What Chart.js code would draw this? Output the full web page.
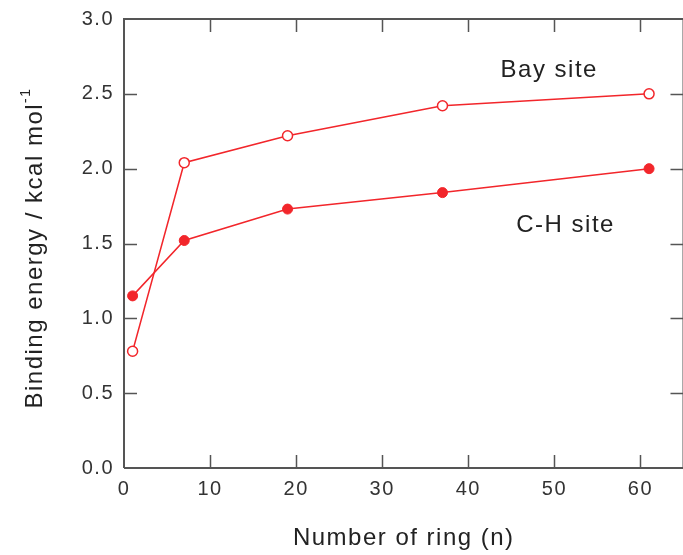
<!DOCTYPE html>
<html>
<head>
<meta charset="utf-8">
<script src="https://cdn.jsdelivr.net/npm/chart.js@4/dist/chart.umd.min.js"></script>
<style>
  html, body { margin: 0; padding: 0; background: #fff; overflow: hidden; }
  #wrap { width: 690px; height: 555px; }
</style>
</head>
<body>
<div id="wrap"><canvas id="chart" width="690" height="555"></canvas></div>
<script>
// data
const ringCounts = [1, 7, 19, 37, 61];
const baySite = [0.78, 2.04, 2.22, 2.42, 2.50];
const chSite = [1.15, 1.52, 1.73, 1.84, 2.00];
const xTicks = [0, 10, 20, 30, 40, 50, 60];
const yTicks = [0.0, 0.5, 1.0, 1.5, 2.0, 2.5, 3.0];

const red = '#f2262b';
const axisColor = '#555';
const font = '"Liberation Sans", Arial, Helvetica, sans-serif';
const spacing = '1.5px';

// the source font runs wider than Arial, so space the letters out a bit
const wideText = {
    id: 'wideText',
    beforeDraw(chart) { chart.ctx.letterSpacing = spacing; }
};

// frame, inward ticks, y title with superscript, series labels
const decor = {
    id: 'decor',
    afterDraw(chart) {
        const { ctx, chartArea: a, scales: { x, y } } = chart;
        const len = 13;
        ctx.save();
        ctx.strokeStyle = axisColor;
        ctx.lineWidth = 2;
        ctx.beginPath();
        ctx.moveTo(a.left, a.bottom); ctx.lineTo(a.left, a.top);
        ctx.lineTo(a.right, a.top); ctx.lineTo(a.right, a.bottom);
        ctx.lineTo(a.left, a.bottom);
        ctx.stroke();
        ctx.lineWidth = 1.5;
        ctx.beginPath();
        xTicks.forEach(v => {
            if (v === 0) return;
            const px = Math.round(x.getPixelForValue(v)) + 0.5;
            ctx.moveTo(px, a.bottom); ctx.lineTo(px, a.bottom - len);
            ctx.moveTo(px, a.top); ctx.lineTo(px, a.top + len);
        });
        yTicks.forEach(v => {
            if (v === 0 || v === 3) return;
            const py = Math.round(y.getPixelForValue(v)) + 0.5;
            ctx.moveTo(a.left, py); ctx.lineTo(a.left + len, py);
            ctx.moveTo(a.right, py); ctx.lineTo(a.right - len, py);
        });
        ctx.stroke();

        // y axis title
        ctx.fillStyle = '#222';
        ctx.letterSpacing = spacing;
        ctx.translate(42, 248);
        ctx.rotate(-Math.PI / 2);
        const main = 'Binding energy / kcal mol';
        ctx.font = '24px ' + font;
        const w1 = ctx.measureText(main).width;
        ctx.font = '14px ' + font;
        const w2 = ctx.measureText('-1').width;
        const start = -(w1 + w2) / 2;
        ctx.textBaseline = 'alphabetic';
        ctx.textAlign = 'left';
        ctx.font = '24px ' + font;
        ctx.fillText(main, start, 0);
        ctx.font = '14px ' + font;
        ctx.fillText('-1', start + w1, -12);
        ctx.restore();

        // series labels
        ctx.save();
        ctx.letterSpacing = spacing;
        ctx.fillStyle = '#222';
        ctx.font = '24px ' + font;
        ctx.textAlign = 'center';
        ctx.textBaseline = 'alphabetic';
        ctx.fillText('Bay site', x.getPixelForValue(49.4), y.getPixelForValue(2.61));
        ctx.fillText('C-H site', x.getPixelForValue(51.3), y.getPixelForValue(1.58));
        ctx.restore();
    }
};

new Chart(document.getElementById('chart'), {
    type: 'line',
    data: {
        datasets: [
            {
                label: 'Bay site',
                data: ringCounts.map((n, i) => ({ x: n, y: baySite[i] })),
                borderColor: red,
                backgroundColor: '#fff',
                borderWidth: 1.5,
                pointRadius: 5,
                pointBorderWidth: 1.5,
                pointBackgroundColor: '#fff',
                pointBorderColor: red
            },
            {
                label: 'C-H site',
                data: ringCounts.map((n, i) => ({ x: n, y: chSite[i] })),
                borderColor: red,
                backgroundColor: red,
                borderWidth: 1.5,
                pointRadius: 5,
                pointBorderWidth: 1,
                pointBackgroundColor: red,
                pointBorderColor: red
            }
        ]
    },
    options: {
        responsive: false,
        animation: false,
        layout: { padding: { left: 0, top: 19, right: 2, bottom: 0 } },
        plugins: { legend: { display: false }, tooltip: { enabled: false } },
        scales: {
            x: {
                type: 'linear',
                min: 0,
                max: 65,
                afterBuildTicks: s => { s.ticks = xTicks.map(v => ({ value: v })); },
                afterFit: s => { s.height = 87; s.paddingRight = 0; s.paddingLeft = 0; },
                grid: { display: false },
                border: { display: false },
                ticks: {
                    padding: 1,
                    color: '#333',
                    font: { family: font, size: 20 },
                    maxRotation: 0
                },
                title: {
                    display: true,
                    text: 'Number of ring (n)',
                    color: '#222',
                    font: { family: font, size: 24 },
                    padding: { top: 0, bottom: 2 }
                }
            },
            y: {
                min: 0,
                max: 3,
                afterBuildTicks: s => { s.ticks = yTicks.map(v => ({ value: v })); },
                afterFit: s => { s.width = 124; },
                grid: { display: false },
                border: { display: false },
                ticks: {
                    padding: 2,
                    color: '#333',
                    font: { family: font, size: 20 },
                    callback: v => v.toFixed(1)
                }
            }
        }
    },
    plugins: [wideText, decor]
});
</script>
</body>
</html>
